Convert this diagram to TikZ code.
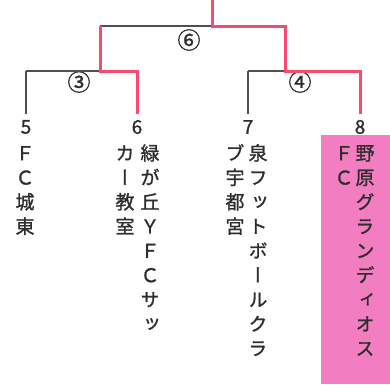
\documentclass[tikz,border=0pt]{standalone}
\usepackage{fontspec}
\newfontfamily\jp[FakeBold=1.2]{Noto Sans CJK JP}
\newfontfamily\jpv[RawFeature=+vert,FakeBold=1.2]{Noto Sans CJK JP}
\definecolor{winred}{RGB}{245,75,110}
\definecolor{pinkbg}{RGB}{242,125,192}
\definecolor{linegray}{RGB}{80,80,80}
\definecolor{txt}{RGB}{45,45,45}
\newcommand\vcol[4]{%
  \foreach \c [count=\i] in {#4}
    \node[ch] (#1-\i) at (#2, {#3+24.4*(\i-1)}) {\c};}
\tikzset{
  x=1pt, y=-1pt,
  loser/.style={line width=1.1pt, draw=linegray},
  winner/.style={line width=3pt, draw=winred},
  ch/.style={inner sep=0pt, text=txt, font=\jpv\fontsize{19}{19}\selectfont,
             text height=16.7pt, text depth=2.3pt},
  num/.style={inner sep=0pt, text=txt, font=\jp\fontsize{19}{19}\selectfont},
  circ/.style={inner sep=0pt, text=txt, font=\jp\fontsize{23}{23}\selectfont},
}
\begin{document}
\begin{tikzpicture}
\useasboundingbox (0,0) rectangle (390,384);
\fill[pinkbg] (321,135) rectangle (390,384);
% junctions
\coordinate (top) at (212,0);
\coordinate (j6) at (212,26);
\coordinate (j6L) at (100,26);
\coordinate (j6R) at (285,26);
\coordinate (j3L) at (26,71);
\coordinate (j3) at (100,71);
\coordinate (j3R) at (137,71);
\coordinate (j4L) at (248,71);
\coordinate (j4) at (285,71);
\coordinate (j4R) at (360,71);
% numbers
\node[num] (n5) at (26,127) {5};
\node[num] (n6) at (137,127) {6};
\node[num] (n7) at (248,127) {7};
\node[num] (n8) at (360,127) {8};
% match labels
\node[circ] (m6) at (189,40) {⑥};
\node[circ] (m3) at (79,82) {③};
\node[circ] (m4) at (300,82) {④};
% losing lines
\draw[loser] (j6L) -- (j6);
\draw[loser] (j3L) -- (j3);
\draw[loser] (j4L) -- (j4);
\draw[loser, shorten >=6pt] (j3L) -- (n5.north);
\draw[loser, shorten >=6pt] (j4L) -- (n7.north);
% winning lines
\draw[winner] (top) -- (j6) -- (j6R) -- (j4) -- (j4R) -- ([yshift=6pt]n8.north);
\draw[winner] (j6L) -- (j3) -- (j3R) -- ([yshift=6pt]n6.north);
% team names
\vcol{t5}{25}{153}{Ｆ,Ｃ,城,東}
\vcol{t6a}{150}{153}{緑,が,丘,Ｙ,Ｆ,Ｃ,サ,ッ}
\vcol{t6b}{125}{153}{カ,ー,教,室}
\vcol{t7a}{258}{153}{泉,フ,ッ,ト,ボ,ー,ル,ク,ラ}
\vcol{t7b}{235}{153}{ブ,宇,都,宮}
\vcol{t8a}{365}{153}{野,原,グ,ラ,ン,デ,ィ,オ,ス}
\vcol{t8b}{344}{153}{Ｆ,Ｃ}
\end{tikzpicture}
\end{document}
